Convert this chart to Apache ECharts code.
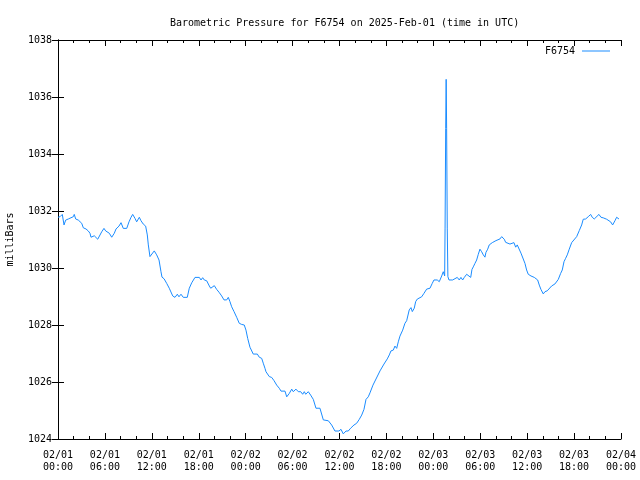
<!DOCTYPE html>
<html><head><meta charset="utf-8">
<script src="https://cdn.jsdelivr.net/npm/echarts@6/dist/echarts.min.js"></script>
<style>html,body{margin:0;padding:0;background:#fff}#c{width:640px;height:480px}</style>
</head><body><div id="c"></div>
<script>
// Hours since 2025-02-01 00:00 UTC
const hours = [0.00,0.26,0.55,0.77,0.98,1.32,1.96,2.08,2.26,2.60,3.03,3.24,3.58,3.87,4.09,4.22,4.64,4.82,5.08,5.28,5.59,5.88,6.10,6.30,6.56,6.87,7.20,7.42,7.80,8.06,8.35,8.79,9.08,9.34,9.55,9.85,10.06,10.40,10.61,10.91,11.21,11.42,11.55,11.76,11.98,12.31,12.62,12.92,13.17,13.30,13.57,13.90,14.23,14.67,14.96,15.26,15.47,15.73,16.02,16.53,16.79,17.10,17.52,18.07,18.29,18.50,18.71,19.02,19.35,19.53,19.78,19.99,20.29,20.59,20.93,21.23,21.57,21.78,21.99,22.21,22.51,22.85,23.18,23.49,23.82,24.04,24.26,24.55,24.97,25.49,25.74,26.05,26.25,26.47,26.60,27.02,27.33,27.62,27.97,28.30,28.52,29.03,29.25,29.58,29.89,30.09,30.43,30.73,31.04,31.29,31.50,31.68,32.01,32.31,32.65,32.99,33.50,33.93,34.57,35.00,35.42,35.93,36.19,36.48,36.83,37.12,37.43,37.85,38.19,38.53,38.84,39.13,39.39,39.68,39.90,40.28,40.73,41.18,41.69,42.11,42.37,42.58,42.88,43.09,43.31,43.52,43.73,44.08,44.37,44.59,44.92,45.14,45.31,45.56,45.74,45.95,46.20,46.51,46.80,47.15,47.57,47.86,48.08,48.50,48.76,49.07,49.27,49.45,49.50,49.58,49.64,49.70,49.78,49.86,50.00,50.47,51.06,51.32,51.53,51.75,51.96,52.26,52.47,52.78,52.94,53.11,53.32,53.54,53.75,53.96,54.18,54.39,54.60,54.73,54.95,55.15,55.33,55.54,55.79,56.01,56.23,56.52,56.74,57.07,57.25,57.38,57.80,58.02,58.31,58.53,58.73,58.95,59.21,59.37,59.72,59.93,60.14,60.49,60.91,61.34,61.55,61.76,62.06,62.28,62.57,63.13,63.55,63.98,64.28,64.49,64.71,64.92,65.13,65.38,65.69,65.90,66.33,66.66,66.97,67.17,67.48,67.81,68.12,68.32,68.58,68.80,69.18,69.44,69.73,70.17,70.40,70.67,70.93,71.23,71.44,71.74,71.96];
// Barometric pressure, milliBars
const pressure = [1031.78,1031.80,1031.88,1031.51,1031.68,1031.72,1031.80,1031.88,1031.72,1031.68,1031.57,1031.41,1031.37,1031.30,1031.22,1031.08,1031.13,1031.18,1031.01,1031.01,1031.27,1031.39,1031.30,1031.37,1031.22,1031.08,1031.22,1031.37,1031.47,1031.59,1031.39,1031.39,1031.62,1031.78,1031.88,1031.74,1031.62,1031.78,1031.66,1031.54,1031.47,1031.16,1030.81,1030.40,1030.46,1030.60,1030.46,1030.28,1029.87,1029.68,1029.62,1029.46,1029.29,1029.02,1028.97,1029.08,1028.99,1029.08,1028.97,1028.97,1029.29,1029.48,1029.67,1029.67,1029.58,1029.66,1029.58,1029.55,1029.37,1029.29,1029.29,1029.38,1029.25,1029.15,1029.02,1028.88,1028.88,1028.97,1028.82,1028.64,1028.47,1028.27,1028.06,1028.02,1028.00,1027.82,1027.53,1027.22,1026.98,1026.98,1026.87,1026.83,1026.66,1026.48,1026.36,1026.19,1026.16,1026.05,1025.89,1025.78,1025.68,1025.68,1025.48,1025.60,1025.75,1025.66,1025.75,1025.66,1025.66,1025.57,1025.66,1025.57,1025.66,1025.54,1025.39,1025.08,1025.08,1024.67,1024.64,1024.49,1024.28,1024.28,1024.34,1024.18,1024.28,1024.28,1024.38,1024.49,1024.55,1024.69,1024.84,1025.04,1025.39,1025.48,1025.62,1025.89,1026.14,1026.39,1026.63,1026.81,1026.95,1027.09,1027.12,1027.26,1027.18,1027.41,1027.61,1027.82,1028.06,1028.15,1028.53,1028.61,1028.47,1028.59,1028.82,1028.91,1028.96,1028.99,1029.11,1029.26,1029.29,1029.46,1029.58,1029.58,1029.52,1029.72,1029.87,1029.72,1031.40,1034.90,1036.62,1034.90,1031.40,1029.70,1029.58,1029.58,1029.67,1029.58,1029.67,1029.58,1029.67,1029.78,1029.78,1029.67,1029.95,1030.04,1030.16,1030.28,1030.48,1030.66,1030.57,1030.46,1030.38,1030.55,1030.66,1030.81,1030.75,1030.89,1030.84,1030.96,1031.02,1031.02,1031.10,1031.01,1030.90,1030.90,1030.84,1030.81,1030.89,1030.73,1030.81,1030.75,1030.52,1030.46,1030.16,1029.93,1029.78,1029.72,1029.67,1029.58,1029.40,1029.25,1029.09,1029.17,1029.20,1029.37,1029.44,1029.60,1029.81,1029.93,1030.22,1030.34,1030.46,1030.66,1030.89,1030.92,1031.10,1031.31,1031.51,1031.71,1031.72,1031.80,1031.88,1031.78,1031.72,1031.72,1031.88,1031.78,1031.76,1031.71,1031.71,1031.62,1031.51,1031.66,1031.78,1031.72];
const xTickHours = [0,6,12,18,24,30,36,42,48,54,60,66,72];
const yTicks = [1024,1026,1028,1030,1032,1034,1036,1038];
const seriesName = 'F6754';
const titleText = 'Barometric Pressure for F6754 on 2025-Feb-01 (time in UTC)';
const yName = 'milliBars';

const FONT = '"DejaVu Sans Mono", "Liberation Mono", monospace';
const COLOR = '#1a8cff';
const data = hours.map((h, i) => [h, pressure[i]]);
function xLabel(h) {
  const day = 1 + Math.floor(h / 24);
  const hh = h % 24;
  return '02/' + String(day).padStart(2, '0') + '\n' + String(hh).padStart(2, '0') + ':00';
}
const chart = echarts.init(document.getElementById('c'), null, {renderer: 'canvas'});
const axisLine = {show: true, lineStyle: {color: '#000', width: 1}};
chart.setOption({
  animation: false,
  backgroundColor: '#fff',
  title: {
    text: titleText, left: 165, top: 13,
    textStyle: {fontFamily: FONT, fontSize: 10, fontWeight: 'normal', color: '#000'}
  },
  legend: {
    data: [{name: seriesName, icon: 'rect', itemStyle: {color: COLOR}}],
    right: 30, top: 41, align: 'right', itemGap: 0,
    itemWidth: 28, itemHeight: 1,
    textStyle: {fontFamily: FONT, fontSize: 10, color: '#000', padding: [0, 2, 0, 0]},
    padding: [5, 0, 5, 5]
  },
  grid: {left: 58, right: 19, top: 40, bottom: 41, containLabel: false, outerBoundsMode: 'none'},
  xAxis: [{
    type: 'value', min: 0, max: 72, interval: 6, position: 'bottom',
    axisLine: axisLine,
    axisTick: {show: true, inside: true, length: 6, lineStyle: {color: '#000'}},
    minorTick: {show: true, splitNumber: 3, length: 3, lineStyle: {color: '#000'}},
    splitLine: {show: false},
    axisLabel: {fontFamily: FONT, fontSize: 10, color: '#000', margin: 10, lineHeight: 12,
      formatter: v => xTickHours.includes(v) ? xLabel(v) : ''}
  }, {
    type: 'value', min: 0, max: 72, interval: 6, position: 'top',
    axisLine: axisLine,
    axisTick: {show: true, inside: true, length: 6, lineStyle: {color: '#000'}},
    minorTick: {show: true, splitNumber: 3, length: 3, lineStyle: {color: '#000'}},
    splitLine: {show: false}, axisLabel: {show: false}
  }],
  yAxis: [{
    type: 'value', min: yTicks[0], max: yTicks[yTicks.length - 1], interval: 2, position: 'left',
    name: yName, nameLocation: 'middle', nameGap: 43, nameRotate: 90,
    nameTextStyle: {fontFamily: FONT, fontSize: 10, color: '#000'},
    axisLine: axisLine,
    axisTick: {show: true, inside: true, length: 6, lineStyle: {color: '#000'}},
    splitLine: {show: false},
    axisLabel: {fontFamily: FONT, fontSize: 10, color: '#000', margin: 6, formatter: v => String(v)}
  }, {
    type: 'value', min: yTicks[0], max: yTicks[yTicks.length - 1], interval: 2, position: 'right',
    axisLine: axisLine,
    axisTick: {show: true, inside: true, length: 6, lineStyle: {color: '#000'}},
    splitLine: {show: false}, axisLabel: {show: false}
  }],
  series: [{
    name: seriesName, type: 'line', data: data, xAxisIndex: 0, yAxisIndex: 0,
    symbol: 'none', showSymbol: false,
    lineStyle: {color: COLOR, width: 1}, itemStyle: {color: COLOR}
  }]
});
</script></body></html>
